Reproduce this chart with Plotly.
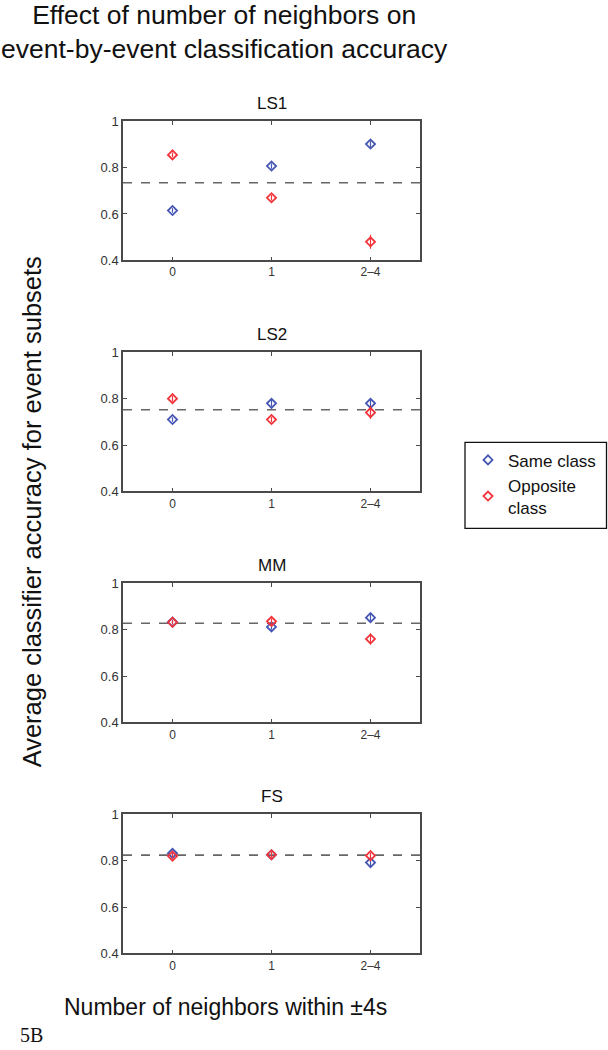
import plotly.graph_objects as go

# ---- data ----
panels = ["LS1", "LS2", "MM", "FS"]
categories = ["0", "1", "2–4"]
same_vals = {
    "LS1": [0.615, 0.807, 0.902],
    "LS2": [0.710, 0.780, 0.780],
    "MM":  [0.833, 0.812, 0.852],
    "FS":  [0.832, 0.826, 0.792],
}
same_err = {
    "LS1": [0.010, 0.012, 0.014],
    "LS2": [0.010, 0.014, 0.022],
    "MM":  [0.010, 0.012, 0.018],
    "FS":  [0.012, 0.010, 0.022],
}
opp_vals = {
    "LS1": [0.855, 0.670, 0.480],
    "LS2": [0.800, 0.710, 0.740],
    "MM":  [0.832, 0.836, 0.760],
    "FS":  [0.820, 0.826, 0.822],
}
opp_err = {
    "LS1": [0.010, 0.012, 0.030],
    "LS2": [0.012, 0.012, 0.028],
    "MM":  [0.008, 0.012, 0.024],
    "FS":  [0.010, 0.012, 0.012],
}
chance = {"LS1": 0.735, "LS2": 0.752, "MM": 0.828, "FS": 0.824}
y_ticks = [0.4, 0.6, 0.8, 1.0]
y_ticktext = ["0.4", "0.6", "0.8", "1"]

# ---- layout geometry ----
W, H = 608, 1050


def px(xp):
    return xp / W


def py(yp):
    # target screen pixel -> paper fraction (compensates observed vertical mapping)
    ys = (yp - 6.7) / 0.9856
    return 1 - ys / H


x_left, x_right = 123, 420
panel_px = [(121, 260), (352, 491), (583, 722), (814, 953)]

BLUE = "#4656b4"
RED = "#f2333a"
AX = "#4a4a4a"

fig = go.Figure()
layout = dict(
    width=W, height=H, margin=dict(l=0, r=0, t=0, b=0),
    paper_bgcolor="white", plot_bgcolor="white",
    font=dict(family="Liberation Sans, Arial, sans-serif", color="#111"),
)
annotations = []
xs = [0, 1, 2]
for i, p in enumerate(panels):
    n = "" if i == 0 else str(i + 1)
    top, bot = panel_px[i]
    layout["xaxis" + n] = dict(
        domain=[px(x_left), px(x_right)], range=[-0.5, 2.5],
        tickvals=xs, ticktext=categories, ticks="inside", ticklen=4,
        tickcolor=AX, showline=True, linecolor=AX, linewidth=1.5,
        mirror="ticks", showgrid=False, zeroline=False,
        tickfont=dict(size=12, color="#333"), anchor="y" + n,
    )
    layout["yaxis" + n] = dict(
        domain=[py(bot), py(top)], range=[0.4, 1.0], tickvals=y_ticks, ticktext=y_ticktext,
        ticks="inside", ticklen=4, tickcolor=AX, showline=True, linecolor=AX,
        linewidth=1.5, mirror="ticks", showgrid=False, zeroline=False,
        tickfont=dict(size=13, color="#333"), anchor="x" + n,
    )

    fig.add_trace(go.Scatter(
        x=[-0.5, 2.5], y=[chance[p], chance[p]], mode="lines",
        line=dict(color="#666", width=1.6, dash="dash"),
        showlegend=False, hoverinfo="skip", xaxis="x" + n, yaxis="y" + n,
    ))
    fig.add_trace(go.Scatter(
        x=xs, y=same_vals[p], mode="markers", name="Same class",
        marker=dict(symbol="diamond-open", size=7, color=BLUE, line=dict(width=1.8, color=BLUE)),
        error_y=dict(type="data", array=same_err[p], color=BLUE, thickness=1.2, width=0),
        showlegend=(i == 0), legendrank=1, xaxis="x" + n, yaxis="y" + n,
    ))
    fig.add_trace(go.Scatter(
        x=xs, y=opp_vals[p], mode="markers", name="Opposite<br>class",
        marker=dict(symbol="diamond-open", size=7, color=RED, line=dict(width=1.8, color=RED)),
        error_y=dict(type="data", array=opp_err[p], color=RED, thickness=1.2, width=0),
        showlegend=(i == 0), legendrank=2, xaxis="x" + n, yaxis="y" + n,
    ))
    annotations.append(dict(
        text=p, x=px((x_left + x_right) / 2), y=py(top - 18),
        xref="paper", yref="paper", xanchor="center", yanchor="middle",
        showarrow=False, font=dict(size=17, color="#111"),
    ))

annotations += [
    dict(text="Effect of number of neighbors on<br>event-by-event classification accuracy",
         x=px(224), y=py(31.5), xref="paper", yref="paper",
         xanchor="center", yanchor="middle", showarrow=False,
         font=dict(size=26.5, color="#111")),
    dict(text="Average classifier accuracy for event subsets",
         x=px(32), y=py(512), xref="paper", yref="paper", textangle=-90,
         xanchor="center", yanchor="middle", showarrow=False,
         font=dict(size=25.5, color="#111")),
    dict(text="Number of neighbors within ±4s",
         x=px(225), y=py(1007), xref="paper", yref="paper",
         xanchor="center", yanchor="middle", showarrow=False,
         font=dict(size=23, color="#111")),
    dict(text="5B", x=px(18), y=py(1035), xref="paper", yref="paper",
         xanchor="left", yanchor="middle", showarrow=False,
         font=dict(size=20, color="#111", family="Liberation Serif, Times New Roman, serif")),
]
layout["annotations"] = annotations
layout["shapes"] = [dict(
    type="rect", xref="paper", yref="paper",
    x0=px(465), x1=px(606.5), y0=py(528), y1=py(442),
    line=dict(color="#111", width=1.3), fillcolor="rgba(0,0,0,0)", layer="above",
)]
layout["legend"] = dict(
    x=px(468), y=py(442), xanchor="left", yanchor="top",
    borderwidth=0, bgcolor="rgba(0,0,0,0)",
    font=dict(size=17, color="#111"), tracegroupgap=0, itemwidth=30,
)
fig.update_layout(**layout)
fig.write_html("out.html", config={"displayModeBar": False},
               post_script="document.body.style.margin='0';")
